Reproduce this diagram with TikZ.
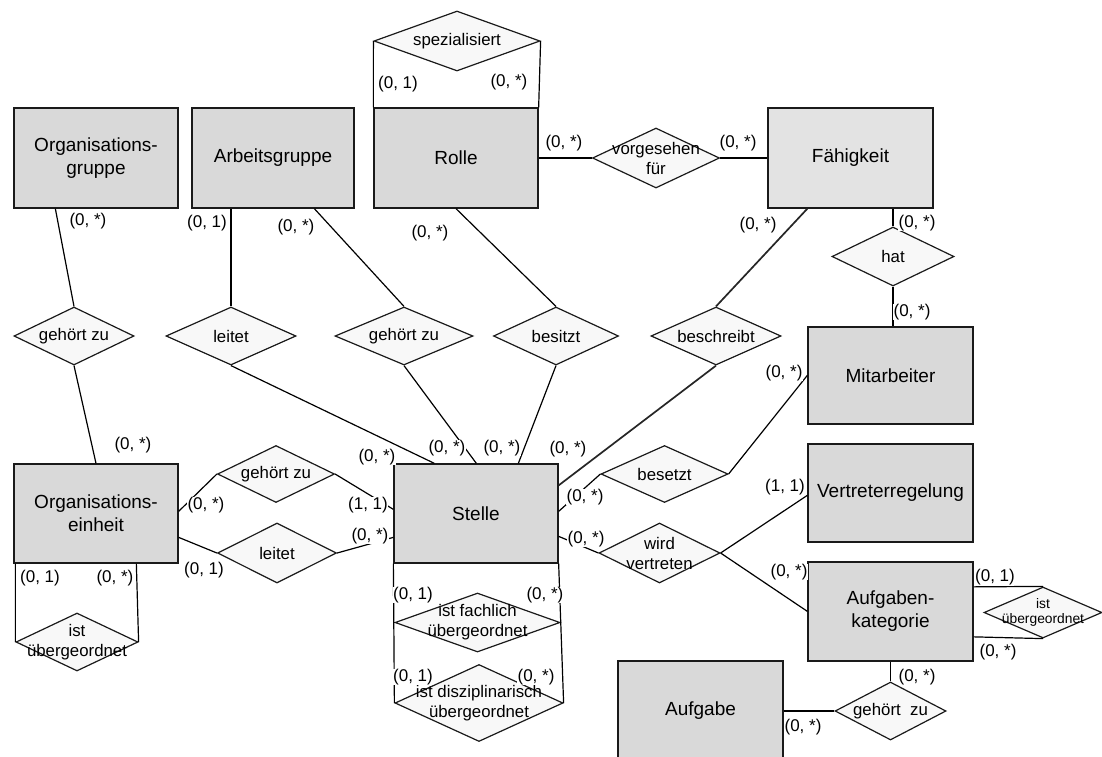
\documentclass[tikz,border=0pt]{standalone}
\usepackage{fontspec}
\setmainfont{Liberation Sans}
\usetikzlibrary{shapes.geometric,calc}
\definecolor{entfill}{HTML}{D9D9D9}
\definecolor{entfillB}{HTML}{E3E3E3}
\definecolor{relfill}{HTML}{F8F8F8}
\definecolor{edgecol}{HTML}{1A1A1A}
\begin{document}
\begin{tikzpicture}[x=1pt,y=-1pt,
  entity/.style={rectangle, draw=edgecol, line width=1.3pt, fill=entfill, inner sep=0pt, align=center, font=\fontsize{19}{23}\selectfont},
  rel/.style={diamond, draw=edgecol, line width=1.2pt, fill=relfill, inner sep=0pt},
  reltext/.style={font=\fontsize{16.8}{20}\selectfont, align=center, inner sep=0pt},
  smalltext/.style={font=\fontsize{13.8}{15}\selectfont, align=center, inner sep=0pt},
  card/.style={font=\fontsize{17}{18}\selectfont, fill=white, inner sep=0.4pt},
  conn/.style={line width=1.2pt, draw=black},
  connthick/.style={line width=1.7pt, draw=black!85}]
\useasboundingbox (0,0) rectangle (1102,756);
\clip (0,0) rectangle (1102,756);
\fill[white] (0,0) rectangle (1102,756);

% entities
\node[entity, minimum width=164pt, minimum height=100pt] (og) at (96,158) {Organisations-\\gruppe};
\node[entity, minimum width=162pt, minimum height=100pt] (ag) at (273,158) {Arbeitsgruppe};
\node[entity, minimum width=164pt, minimum height=100pt] (rolle) at (456,158) {Rolle};
\node[entity, fill=entfillB, minimum width=165pt, minimum height=100pt] (faeh) at (850.5,158) {Fähigkeit};
\node[entity, minimum width=165pt, minimum height=97pt] (mit) at (890.5,375.5) {Mitarbeiter};
\node[entity, minimum width=164pt, minimum height=99pt] (stelle) at (476,513.5) {Stelle};
\node[entity, minimum width=164pt, minimum height=99pt] (oe) at (96,513.5) {Organisations-\\einheit};
\node[entity, minimum width=165pt, minimum height=98pt] (vr) at (890.5,493) {Vertreterregelung};
\node[entity, minimum width=165pt, minimum height=99pt] (ak) at (890.5,611.5) {Aufgaben-\\kategorie};
\node[entity, minimum width=165pt, minimum height=100pt] (aufg) at (700.5,711) {Aufgabe};

% relationships
\node[rel, minimum width=166pt, minimum height=60pt] (spez) at (457,41) {};
\node[rel, minimum width=127pt, minimum height=60pt] (vorg) at (656,158) {};
\node[rel, minimum width=122pt, minimum height=59pt] (hat) at (893,256.5) {};
\node[rel, minimum width=120pt, minimum height=58pt] (ogz) at (74,336) {};
\node[rel, minimum width=130pt, minimum height=58pt] (agl) at (231,336) {};
\node[rel, minimum width=138pt, minimum height=58pt] (agz) at (404,336) {};
\node[rel, minimum width=125pt, minimum height=58pt] (bes) at (556,336) {};
\node[rel, minimum width=130pt, minimum height=58pt] (beschr) at (716,336) {};
\node[rel, minimum width=117pt, minimum height=57pt] (oez) at (276,474) {};
\node[rel, minimum width=119pt, minimum height=60pt] (oel) at (277,553) {};
\node[rel, minimum width=122pt, minimum height=58pt] (oeu) at (77,642) {};
\node[rel, minimum width=165pt, minimum height=59pt] (stf) at (477.5,622.5) {};
\node[rel, minimum width=168pt, minimum height=77pt] (std) at (479,703) {};
\node[rel, minimum width=127pt, minimum height=57pt] (besetzt) at (664.5,474) {};
\node[rel, minimum width=121pt, minimum height=60pt] (wv) at (659.5,553) {};
\node[rel, minimum width=118pt, minimum height=51pt] (aku) at (1043,612.5) {};
\node[rel, minimum width=111pt, minimum height=58pt] (agz2) at (890.5,711) {};

% connectors
\draw[conn] (spez.west) -- (rolle.north west);
\draw[conn] (spez.east) -- (rolle.north east);
\draw[conn] (rolle.east) -- (vorg.west);
\draw[conn] (vorg.east) -- (faeh.west);
\draw[conn] (hat.north) -- (hat.north |- faeh.south);
\draw[conn] (hat.south) -- (hat.south |- mit.north);
\draw[conn] ($(og.south west)+(42,0)$) -- (ogz.north);
\draw[conn] (ogz.south) -- (oe.north);
\draw[conn] (agl.north) -- (agl.north |- ag.south);
\draw[conn] ($(ag.south west)+(123,0)$) -- (agz.north);
\draw[conn] (rolle.south) -- (bes.north);
\draw[conn] (agl.south) -- ($(stelle.north west)+(41,0)$);
\draw[conn] (agz.south) -- ($(stelle.north west)+(83,0)$);
\draw[conn] (bes.south) -- ($(stelle.north west)+(125,0)$);
\draw[connthick] ($(faeh.south west)+(40,0)$) -- (beschr.north);
\draw[connthick] (beschr.south) -- ($(stelle.north east)+(0,22)$);
\draw[conn] ($(oe.north east)+(0,48)$) -- (oez.west);
\draw[conn] (oez.east) -- ($(stelle.north west)+(0,46)$);
\draw[conn] ($(oe.north east)+(0,74)$) -- (oel.west);
\draw[conn] (oel.east) -- ($(stelle.north west)+(0,74)$);
\draw[conn] ($(oe.south west)+(2,0)$) -- (oeu.west);
\draw[conn] ($(oe.south west)+(123,0)$) -- (oeu.east);
\draw[conn] (stelle.south west) -- (std.west);
\draw[conn] (stelle.south east) -- (std.east);
\draw[conn] ($(stelle.north east)+(0,48)$) -- (besetzt.west);
\draw[conn] (besetzt.east) -- ($(mit.north west)+(0,49)$);
\draw[conn] ($(stelle.north east)+(0,73)$) -- (wv.west);
\draw[conn] (wv.east) -- ($(vr.north west)+(0,52)$);
\draw[conn] (wv.east) -- ($(ak.north west)+(0,50)$);
\draw[conn] ($(ak.north east)+(0,25.5)$) -- (aku.north);
\draw[conn] ($(ak.north east)+(0,75.5)$) -- (aku.south);
\draw[conn] (ak.south) -- (agz2.north);
\draw[conn] (aufg.east) -- (agz2.west);

% relationship texts
\node[reltext] at (spez.center) {spezialisiert};
\node[reltext] at (vorg.center) {vorgesehen\\für};
\node[reltext] at (hat.center) {hat};
\node[reltext] at (ogz.center) {gehört zu};
\node[reltext] at (agl.center) {leitet};
\node[reltext] at (agz.center) {gehört zu};
\node[reltext] at (bes.center) {besitzt};
\node[reltext] at (beschr.center) {beschreibt};
\node[reltext] at (oez.center) {gehört zu};
\node[reltext] at (oel.center) {leitet};
\node[reltext] at (oeu.center) {ist\\übergeordnet};
\node[reltext] at (stf.center) {ist fachlich\\übergeordnet};
\node[reltext] at (std.center) {ist disziplinarisch\\übergeordnet};
\node[reltext] at (besetzt.center) {besetzt};
\node[reltext] at (wv.center) {wird\\vertreten};
\node[smalltext] at (aku.center) {ist\\übergeordnet};
\node[reltext] at (agz2.center) {gehört\ \ zu};

% cardinalities
\node[card] at (398,84) {(0, 1)};
\node[card] at (509,82) {(0, *)};
\node[card] at (564,143) {(0, *)};
\node[card] at (738,143) {(0, *)};
\node[card] at (917,223) {(0, *)};
\node[card] at (912,312) {(0, *)};
\node[card] at (88,221) {(0, *)};
\node[card] at (133,445) {(0, *)};
\node[card] at (207,223) {(0, 1)};
\node[card] at (296,227) {(0, *)};
\node[card] at (430,233) {(0, *)};
\node[card] at (758,225) {(0, *)};
\node[card] at (784,373) {(0, *)};
\node[card] at (377,457) {(0, *)};
\node[card] at (447,448) {(0, *)};
\node[card] at (502,448) {(0, *)};
\node[card] at (568,449) {(0, *)};
\node[card] at (206,505) {(0, *)};
\node[card] at (368,505) {(1, 1)};
\node[card] at (204,570) {(0, 1)};
\node[card] at (370,536) {(0, *)};
\node[card] at (40,578) {(0, 1)};
\node[card] at (115,578) {(0, *)};
\node[card] at (413,595) {(0, 1)};
\node[card] at (545,595) {(0, *)};
\node[card] at (413,677) {(0, 1)};
\node[card] at (536,677) {(0, *)};
\node[card] at (585,497) {(0, *)};
\node[card] at (586,539) {(0, *)};
\node[card] at (785,487) {(1, 1)};
\node[card] at (789,572) {(0, *)};
\node[card] at (995,577) {(0, 1)};
\node[card] at (998,652) {(0, *)};
\node[card] at (917,677) {(0, *)};
\node[card] at (803,727) {(0, *)};
\end{tikzpicture}
\end{document}
